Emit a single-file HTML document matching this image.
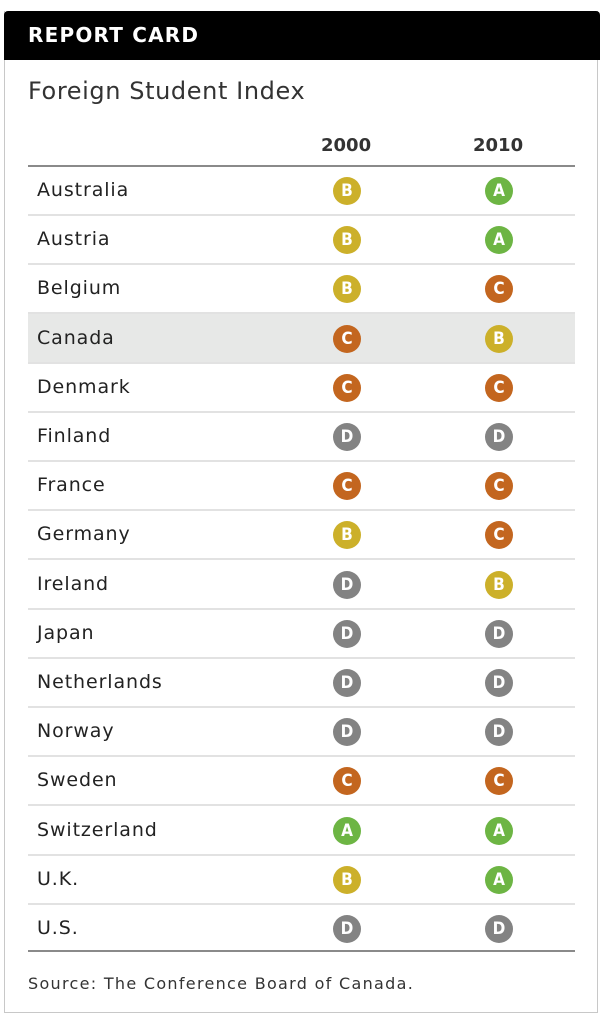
<!DOCTYPE html>
<html><head><meta charset="utf-8"><style>
body{margin:0;width:608px;height:1024px;background:#fff;position:relative;font-family:"DejaVu Sans","Liberation Sans",sans-serif;overflow:hidden}
.card{position:absolute;left:4px;top:11px;width:594px;height:1002px;border:1px solid #c8c8c8;border-top:none;box-sizing:border-box}
.hdr{position:absolute;left:4px;top:11px;width:596px;height:49px;background:#000;border-radius:4px 4px 0 0}
.hdr span{position:absolute;left:24px;top:12px;color:#fff;font-weight:bold;font-size:20px;letter-spacing:1.2px}
.t{position:absolute;white-space:nowrap;color:#222}
.line{position:absolute;left:28px;width:547px;height:2px;background:#e2e2e2}
.b{position:absolute;width:28px;height:28px;border-radius:50%;color:#fff;font-weight:bold;font-size:17px;text-align:center;line-height:28px;font-family:"DejaVu Sans Condensed","DejaVu Sans",sans-serif}
.A{background:#6db544}.B{background:#ccb02a}.C{background:#c3661f}.D{background:#838383}
</style></head><body>
<div class="card"></div>
<div class="hdr"><span>REPORT CARD</span></div>
<div class="t" style="left:28px;top:77px;font-size:24px;letter-spacing:0.6px;color:#333">Foreign Student Index</div>
<div class="t" style="left:321px;top:135px;font-size:18px;font-weight:bold;color:#333">2000</div>
<div class="t" style="left:473px;top:135px;font-size:18px;font-weight:bold;color:#333">2010</div>
<div style="position:absolute;left:28px;top:165px;width:547px;height:2px;background:#8a8a8a"></div>
<div style="position:absolute;left:28px;top:313px;width:547px;height:49px;background:#e7e8e7"></div>
<div id="rows"></div>
<div style="position:absolute;left:28px;top:950px;width:547px;height:2px;background:#8a8a8a"></div>
<div class="t" style="left:28px;top:974px;font-size:16px;letter-spacing:1.3px;color:#333">Source: The Conference Board of Canada.</div>
<script>
var d=[["Australia","B","A"],["Austria","B","A"],["Belgium","B","C"],["Canada","C","B"],["Denmark","C","C"],["Finland","D","D"],["France","C","C"],["Germany","B","C"],["Ireland","D","B"],["Japan","D","D"],["Netherlands","D","D"],["Norway","D","D"],["Sweden","C","C"],["Switzerland","A","A"],["U.K.","B","A"],["U.S.","D","D"]];
var h="";
d.forEach(function(r,i){var c=190+i*49.2;
h+='<div class="t" style="left:37px;top:'+(c-11)+'px;font-size:19px;letter-spacing:0.9px">'+r[0]+'</div>';
h+='<div class="b '+r[1]+'" style="left:333px;top:'+(c-13)+'px">'+r[1]+'</div>';
h+='<div class="b '+r[2]+'" style="left:485px;top:'+(c-13)+'px">'+r[2]+'</div>';
if(i<15)h+='<div class="line" style="top:'+(c+24)+'px"></div>';});
document.getElementById("rows").innerHTML=h;
</script>
</body></html>
